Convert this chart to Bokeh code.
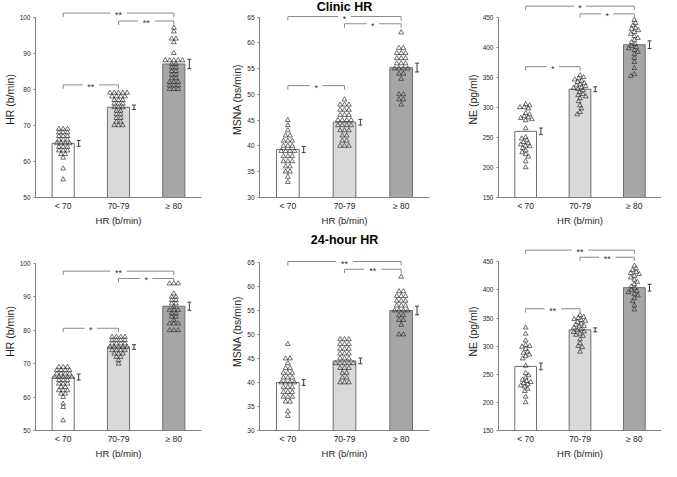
import math
from bokeh.plotting import figure
from bokeh.models import Range1d, FixedTicker
from bokeh.layouts import column, row
from bokeh.embed import file_html
from bokeh.resources import INLINE
from bokeh.core.properties import value

# ---------------- data ----------------
categories = ["< 70", "70-79", "≥ 80"]
x_title = "HR (b/min)"
row_titles = ["Clinic HR", "24-hour HR"]

hr_ticks = [50, 60, 70, 80, 90, 100]
msna_ticks = [30, 35, 40, 45, 50, 55, 60, 65]
ne_ticks = [150, 200, 250, 300, 350, 400, 450]

# Clinic HR panel
clinic_hr_lt70 = [69, 69, 69, 68, 68, 68, 67, 67, 67, 66, 66, 66, 65, 65, 65, 65, 64, 64, 64, 63, 63, 63, 62, 62, 61, 58, 55]
clinic_hr_70_79 = [79, 79, 79, 79, 79, 78, 78, 78, 78, 77, 77, 77, 76, 76, 76, 75, 75, 75, 74, 74, 73, 73, 72, 72, 71, 71, 70, 70, 70]
clinic_hr_ge80 = [97, 96, 94, 94, 93, 90, 88, 88, 88, 88, 88, 87, 87, 86, 86, 85, 85, 84, 84, 83, 83, 82, 82, 82, 81, 81, 81, 80, 80, 80]
clinic_hr_mean = [65, 75, 87]
clinic_hr_sem = [0.8, 0.6, 1.3]

# Clinic MSNA panel
clinic_msna_lt70 = [45, 44, 43, 42, 42, 41, 41, 41, 40, 40, 40, 39, 39, 39, 39, 38, 38, 38, 37, 37, 37, 36, 36, 35, 35, 34, 33]
clinic_msna_70_79 = [49, 48, 48, 48, 47, 47, 47, 46, 46, 46, 45, 45, 45, 45, 44, 44, 44, 44, 43, 43, 43, 42, 42, 41, 41, 40, 40, 40]
clinic_msna_ge80 = [62, 59, 59, 58, 58, 58, 57, 57, 57, 56, 56, 56, 55, 55, 55, 55, 54, 54, 53, 50, 50, 49, 49, 48]
clinic_msna_mean = [39.3, 44.6, 55.2]
clinic_msna_sem = [0.6, 0.55, 0.85]

# Clinic NE panel
clinic_ne_lt70 = [305, 303, 300, 300, 298, 290, 288, 285, 283, 282, 280, 278, 265, 250, 248, 245, 242, 240, 238, 236, 235, 232, 228, 225, 222, 218, 210, 200]
clinic_ne_70_79 = [353, 350, 348, 346, 344, 342, 340, 338, 336, 335, 333, 332, 330, 328, 325, 322, 320, 318, 315, 310, 303, 298, 292, 288]
clinic_ne_ge80 = [445, 440, 436, 432, 430, 428, 425, 422, 418, 415, 412, 408, 405, 402, 400, 398, 395, 392, 388, 382, 375, 365, 355, 352]
clinic_ne_mean = [260, 330, 404]
clinic_ne_sem = [5.5, 4, 6.4]

# 24-hour HR panel
day_hr_lt70 = [69, 69, 69, 68, 68, 68, 68, 67, 67, 67, 67, 66, 66, 66, 66, 66, 65, 65, 65, 64, 64, 64, 63, 63, 62, 62, 62, 61, 61, 60, 58, 57, 53]
day_hr_70_79 = [78, 78, 78, 78, 77, 77, 77, 77, 76, 76, 76, 76, 75, 75, 75, 75, 75, 74, 74, 74, 74, 73, 73, 73, 72, 72, 71, 70]
day_hr_ge80 = [94, 94, 94, 91, 90, 90, 89, 89, 88, 88, 87, 86, 86, 86, 85, 85, 84, 84, 83, 82, 82, 82, 80, 80, 80]
day_hr_mean = [66, 75, 87.2]
day_hr_sem = [0.9, 0.7, 1.2]

# 24-hour MSNA panel
day_msna_lt70 = [48, 45, 45, 44, 43, 43, 42, 42, 42, 41, 41, 41, 40, 40, 40, 40, 39, 39, 39, 38, 38, 38, 37, 37, 37, 36, 36, 34, 33]
day_msna_70_79 = [49, 49, 49, 48, 48, 48, 47, 47, 47, 46, 46, 46, 45, 45, 45, 44, 44, 44, 44, 44, 43, 43, 43, 42, 42, 41, 41, 40, 40, 40]
day_msna_ge80 = [62, 59, 59, 58, 58, 58, 57, 57, 57, 56, 56, 56, 55, 55, 55, 55, 54, 54, 53, 53, 52, 50, 50]
day_msna_mean = [40.0, 44.5, 55.0]
day_msna_sem = [0.6, 0.6, 0.9]

# 24-hour NE panel
day_ne_lt70 = [333, 322, 310, 302, 300, 299, 295, 290, 288, 285, 282, 278, 265, 252, 248, 244, 240, 238, 236, 234, 232, 230, 228, 224, 220, 210, 200]
day_ne_70_79 = [355, 352, 350, 348, 346, 345, 343, 340, 338, 336, 335, 333, 330, 328, 326, 325, 322, 320, 318, 312, 305, 300, 298, 290]
day_ne_ge80 = [443, 438, 435, 432, 430, 428, 425, 422, 418, 414, 410, 406, 403, 400, 398, 396, 393, 390, 385, 380, 372, 365]
day_ne_mean = [264, 329, 404]
day_ne_sem = [6, 3.5, 6]

# significance brackets: (group a, group b, level, label)
clinic_hr_sig = [(0, 1, 81.2, "**"), (1, 2, 98.9, "**"), (0, 2, 101.1, "**")]
clinic_msna_sig = [(0, 1, 51.7, "*"), (1, 2, 63.7, "*"), (0, 2, 65.1, "*")]
clinic_ne_sig = [(0, 1, 367.5, "*"), (1, 2, 455.3, "*"), (0, 2, 468.0, "*")]
day_hr_sig = [(0, 1, 80.6, "*"), (1, 2, 95.5, "*"), (0, 2, 97.7, "**")]
day_msna_sig = [(1, 2, 63.6, "**"), (0, 2, 65.2, "**")]
day_ne_sig = [(0, 1, 366.6, "**"), (1, 2, 458.2, "**"), (0, 2, 470.8, "**")]

# ---------------- style ----------------
FONT = "Liberation Sans"
bar_colors = ["#ffffff", "#d9d9d9", "#a6a6a6"]
bar_line = "#6e6e6e"
axis_color = "#808080"
text_color = "#262626"
bracket_color = "#8a8a8a"
point_color = "#333333"


def swarm(vals, ppu, ppx, Dx=4.4, Dy=3.2):
    """Deterministic beeswarm layout (horizontal offsets only)."""
    n = len(vals)
    sy = ppu * Dx / Dy
    order = sorted(range(n), key=lambda i: -vals[i])
    placed = []
    offs = [0.0] * n
    toggle = 1
    D = Dx
    for i in order:
        y = vals[i] * sy
        near = [(xp, yp) for xp, yp in placed if abs(y - yp) < D]
        cands = [0.0]
        for xp, yp in near:
            dx = math.sqrt(D * D - (y - yp) ** 2)
            cands += [xp + dx, xp - dx]
        ok = [c for c in cands
              if all((c - xp) ** 2 + (y - yp) ** 2 >= D * D - 1e-6 for xp, yp in near)]
        ok.sort(key=lambda c: (round(abs(c), 4), -toggle * c))
        c = ok[0]
        if abs(c) > 1e-9:
            toggle = -toggle
        placed.append((c, y))
        offs[i] = c
    # re-centre rows of identical values when possible
    for u in sorted(set(vals)):
        idx = [i for i in range(n) if vals[i] == u]
        if len(idx) < 2:
            continue
        m = sum(offs[i] for i in idx) / len(idx)
        if abs(m) < 1e-9:
            continue
        others = [(offs[k], vals[k] * sy) for k in range(n) if vals[k] != u]
        good = True
        for i in idx:
            x = offs[i] - m
            y = vals[i] * sy
            for xp, yp in others:
                if (x - xp) ** 2 + (y - yp) ** 2 < (D * 0.9) ** 2:
                    good = False
                    break
            if not good:
                break
        if good:
            for i in idx:
                offs[i] -= m
    return [o / ppx for o in offs]


def make_panel(groups, means, sems, ticks, ylabel, sig, width, height,
               b_left, b_right, b_top, b_bottom, top_tick_px,
               title=None, title_px=None):
    frame_h = height - b_top - b_bottom
    frame_w = width - b_left - b_right
    v0, v1 = ticks[0], ticks[-1]
    frame_bottom = b_top + frame_h
    ppu = (frame_bottom - top_tick_px) / (v1 - v0)
    y_end = v0 + frame_h / ppu
    ppx = frame_w / 3.0

    p = figure(width=width, height=height, x_range=Range1d(0, 3),
               y_range=Range1d(v0, y_end), output_backend="svg",
               toolbar_location=None, min_border_left=b_left,
               min_border_right=b_right, min_border_top=b_top,
               min_border_bottom=b_bottom)
    p.outline_line_color = None
    p.xgrid.visible = False
    p.ygrid.visible = False
    p.background_fill_color = "white"
    p.border_fill_color = "white"

    centers = [k + 0.5 for k in range(len(categories))]

    # bars
    p.vbar(x=centers, top=means, bottom=v0, width=0.4, fill_color=bar_colors,
           line_color=bar_line, line_width=1)

    # error bars
    ex = [c + 0.28 for c in centers]
    lo = [m - s for m, s in zip(means, sems)]
    hi = [m + s for m, s in zip(means, sems)]
    cap = 0.035
    p.segment(x0=ex, y0=lo, x1=ex, y1=hi, line_color="#3a3a3a", line_width=1)
    p.segment(x0=[e - cap for e in ex], y0=hi, x1=[e + cap for e in ex], y1=hi,
              line_color="#3a3a3a", line_width=1)
    p.segment(x0=[e - cap for e in ex], y0=lo, x1=[e + cap for e in ex], y1=lo,
              line_color="#3a3a3a", line_width=1)

    # data points (beeswarm)
    xs, ys = [], []
    for k, vals in enumerate(groups):
        offs = swarm(vals, ppu, ppx)
        xs += [centers[k] + o for o in offs]
        ys += list(vals)
    p.scatter(x=xs, y=ys, marker="triangle", size=4.8, fill_color=None,
              line_color=point_color, line_width=0.7)

    # significance brackets
    tick_len = 4.0 / ppu
    bx0, by0, bx1, by1 = [], [], [], []
    tx, ty, tt = [], [], []
    for a, b, lev, lab in sig:
        xa, xb = centers[a], centers[b]
        xm = (xa + xb) / 2
        g = (len(lab) * 4.5 + 8) / 2 / ppx
        bx0 += [xa, xm + g, xa, xb]
        bx1 += [xm - g, xb, xa, xb]
        by0 += [lev, lev, lev, lev]
        by1 += [lev, lev, lev - tick_len, lev - tick_len]
        tx.append(xm)
        ty.append(lev)
        tt.append(lab)
    p.segment(x0=bx0, y0=by0, x1=bx1, y1=by1, line_color=bracket_color, line_width=1)
    p.text(x=tx, y=ty, text=tt, text_font=value(FONT), text_font_size="9px",
           text_color="#333333", text_align="center", text_baseline="middle",
           y_offset=2)

    if title:
        t_val = v0 + (frame_bottom - title_px) / ppu
        p.text(x=[1.5], y=[t_val], text=[title], text_font=value(FONT),
               text_font_size="12.5px", text_font_style="bold", text_color="#000000",
               text_align="center", text_baseline="middle")

    # axes
    ya = p.yaxis[0]
    ya.ticker = FixedTicker(ticks=ticks)
    ya.bounds = (v0, v1)
    ya.axis_label = ylabel
    ya.axis_label_text_font = FONT
    ya.axis_label_text_font_size = "10.5px"
    ya.axis_label_text_font_style = "normal"
    ya.axis_label_text_color = text_color
    ya.axis_label_standoff = 1
    ya.major_label_text_font = FONT
    ya.major_label_text_font_size = "6.5px"
    ya.major_label_text_color = text_color
    ya.major_label_standoff = 3
    ya.major_tick_in = 0
    ya.major_tick_out = 2
    ya.minor_tick_line_color = None
    ya.axis_line_color = axis_color
    ya.major_tick_line_color = axis_color

    xa = p.xaxis[0]
    xa.ticker = FixedTicker(ticks=centers)
    xa.major_label_overrides = {c: lab for c, lab in zip(centers, categories)}
    xa.axis_label = x_title
    xa.axis_label_text_font = FONT
    xa.axis_label_text_font_size = "9.5px"
    xa.axis_label_text_font_style = "normal"
    xa.axis_label_text_color = text_color
    xa.axis_label_standoff = 1
    xa.major_label_text_font = FONT
    xa.major_label_text_font_size = "8.5px"
    xa.major_label_text_color = text_color
    xa.major_label_standoff = 3
    xa.major_tick_in = 0
    xa.major_tick_out = 0
    xa.minor_tick_line_color = None
    xa.axis_line_color = axis_color
    return p


widths = [228, 235, 198]
b_left = 31
b_rights = [27, 34, 0]

r1 = dict(height=228, b_top=1, b_bottom=29)
r2 = dict(height=233, b_top=4, b_bottom=25)

p1 = make_panel([clinic_hr_lt70, clinic_hr_70_79, clinic_hr_ge80], clinic_hr_mean, clinic_hr_sem,
                hr_ticks, "HR (b/min)", clinic_hr_sig, widths[0], r1["height"], b_left, b_rights[0],
                r1["b_top"], r1["b_bottom"], 16.7)
p2 = make_panel([clinic_msna_lt70, clinic_msna_70_79, clinic_msna_ge80], clinic_msna_mean, clinic_msna_sem,
                msna_ticks, "MSNA (bs/min)", clinic_msna_sig, widths[1], r1["height"], b_left, b_rights[1],
                r1["b_top"], r1["b_bottom"], 16.7, title=row_titles[0], title_px=6.8)
p3 = make_panel([clinic_ne_lt70, clinic_ne_70_79, clinic_ne_ge80], clinic_ne_mean, clinic_ne_sem,
                ne_ticks, "NE (pg/ml)", clinic_ne_sig, widths[2], r1["height"], b_left, b_rights[2],
                r1["b_top"], r1["b_bottom"], 16.7)
p4 = make_panel([day_hr_lt70, day_hr_70_79, day_hr_ge80], day_hr_mean, day_hr_sem,
                hr_ticks, "HR (b/min)", day_hr_sig, widths[0], r2["height"], b_left, b_rights[0],
                r2["b_top"], r2["b_bottom"], 35.9)
p5 = make_panel([day_msna_lt70, day_msna_70_79, day_msna_ge80], day_msna_mean, day_msna_sem,
                msna_ticks, "MSNA (bs/min)", day_msna_sig, widths[1], r2["height"], b_left, b_rights[1],
                r2["b_top"], r2["b_bottom"], 34.9, title=row_titles[1], title_px=12)
p6 = make_panel([day_ne_lt70, day_ne_70_79, day_ne_ge80], day_ne_mean, day_ne_sem,
                ne_ticks, "NE (pg/ml)", day_ne_sig, widths[2], r2["height"], b_left, b_rights[2],
                r2["b_top"], r2["b_bottom"], 34.2)

layout = column(row(p1, p2, p3), row(p4, p5, p6))

with open("out.html", "w") as f:
    f.write(file_html(layout, INLINE))
